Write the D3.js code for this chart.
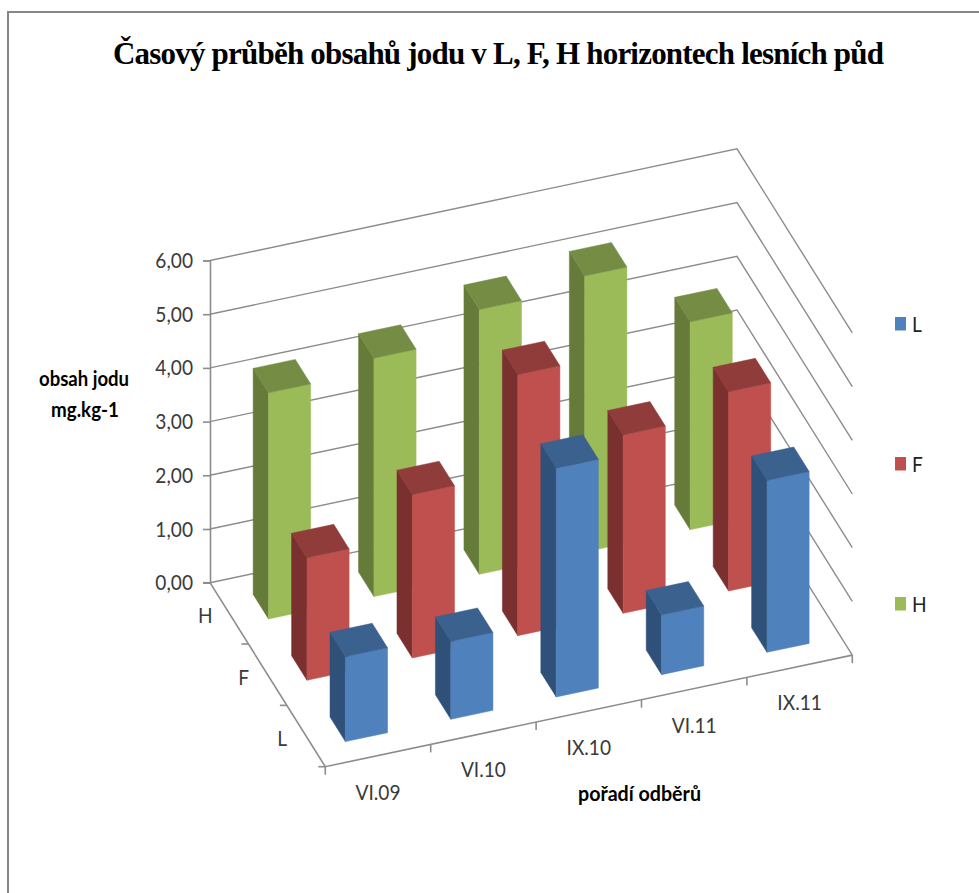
<!DOCTYPE html>
<html lang="cs">
<head>
<meta charset="utf-8">
<title>Časový průběh obsahů jodu</title>
<script src="https://cdnjs.cloudflare.com/ajax/libs/d3/7.8.5/d3.min.js"></script>
<style>
  html, body { margin: 0; padding: 0; background: #fff; }
  svg { display: block; }
  .tick-label { font-family: Lato, "Open Sans", sans-serif; font-size: 22px; fill: #3a3a3a; }
  .axis-title { font-family: Lato, "Open Sans", sans-serif; font-size: 21px; font-weight: 700; fill: #000; }
</style>
</head>
<body>
<svg id="chart" width="979" height="893"></svg>
<script>
// Sampling dates and soil horizons
const categories = ["VI.09", "VI.10", "IX.10", "VI.11", "IX.11"];
const horizons = ["H", "F", "L"];            // back row to front row
const legendOrder = ["L", "F", "H"];

// Iodine content, mg.kg-1
const valuesL = [1.58, 1.45, 4.26, 1.11, 3.20];
const valuesF = [2.28, 3.04, 4.86, 3.32, 3.71];
const valuesH = [4.21, 4.44, 4.93, 5.14, 3.87];

const yTicks = [0, 1, 2, 3, 4, 5, 6];

// Face colours per horizon
const colorsFront = ["#9BBB59", "#C0504D", "#4F81BD"];
const colorsSide = ["#667A3A", "#7A302E", "#2F5078"];
const colorsTop = ["#748C43", "#903C3A", "#3B618F"];

const seriesByHorizon = [valuesH, valuesF, valuesL];

const svg = d3.select("#chart");

// Oblique projection of the plot box
const origin = { x: 210, y: 582.7 };
const widthVec = { x: 527, y: -111.6 };
const depthVec = { x: 115.3, y: 184 };

const xBand = d3.scaleBand().domain(categories).range([0, 1]).paddingInner(0.6).paddingOuter(0.3);
const zBand = d3.scaleBand().domain(horizons).range([0, 1]).paddingInner(0.6).paddingOuter(0.3);
const yScale = d3.scaleLinear().domain([0, 6]).range([582.7, 260.5]);
const rise = v => yScale(0) - yScale(v);

// u runs along the categories, d from back wall to front, v is the measured value
const project = (u, d, v) => [
  origin.x + u * widthVec.x + d * depthVec.x,
  origin.y + u * widthVec.y + d * depthVec.y - rise(v)
];
const gridColor = "#8c8c8c";
const poly = pts => d3.line()(pts) + "Z";

// Narrows text horizontally so tall glyphs keep a condensed width
function condense(selection, factor) {
  selection.each(function () {
    const natural = this.getComputedTextLength();
    d3.select(this)
      .attr("textLength", natural * factor)
      .attr("lengthAdjust", "spacingAndGlyphs");
  });
  return selection;
}

// Outer frame, open on the right and at the bottom
svg.append("path")
  .attr("d", "M8 893V12H979")
  .attr("fill", "none").attr("stroke", "#868686").attr("stroke-width", 2);

// Title
svg.append("text")
  .attr("x", 498.5).attr("y", 64)
  .attr("text-anchor", "middle")
  .attr("textLength", 771).attr("lengthAdjust", "spacing")
  .style("font-family", '"Liberation Serif", serif')
  .style("font-size", "31px").style("font-weight", 700).attr("fill", "#000")
  .text("Časový průběh obsahů jodu v L, F, H horizontech lesních půd");

// Gridlines over back and side walls
const grid = svg.append("g").attr("fill", "none").attr("stroke", gridColor).attr("stroke-width", 1.4);
yTicks.forEach(t => {
  grid.append("path").attr("d", d3.line()([project(0, 0, t), project(1, 0, t), project(1, 1, t)]));
});

// Floor edges
const floor = svg.append("g").attr("fill", "none").attr("stroke", gridColor).attr("stroke-width", 1.6);
floor.append("path").attr("d", d3.line()([project(0, 0, 0), project(0, 1, 0), project(1, 1, 0)]));

// Value axis
const yAxis = d3.axisLeft(yScale)
  .tickValues(yTicks)
  .tickSize(7)
  .tickPadding(10)
  .tickFormat(d => d3.format(".2f")(d).replace(".", ","));
const yAxisG = svg.append("g")
  .attr("transform", `translate(${origin.x},0)`)
  .call(yAxis);
yAxisG.selectAll("path, line").attr("stroke", gridColor).attr("stroke-width", 1.6);
yAxisG.selectAll("text").attr("class", "tick-label").attr("fill", null).attr("dy", "0.32em")
  .call(condense, 0.87);

// Depth axis ticks and horizon labels
const step = 1 / horizons.length;
d3.range(horizons.length + 1).forEach(i => {
  const [px, py] = project(0, i * step, 0);
  svg.append("line").attr("x1", px - 7).attr("x2", px).attr("y1", py).attr("y2", py)
    .attr("stroke", gridColor).attr("stroke-width", 1.6);
});
svg.append("g").selectAll("text").data(horizons).join("text")
  .attr("class", "tick-label")
  .attr("text-anchor", "middle")
  .attr("x", d => project(0, zBand(d) + zBand.bandwidth() / 2, 0)[0] - 24)
  .attr("y", d => project(0, zBand(d) + zBand.bandwidth() / 2, 0)[1] + 10)
  .text(d => d)
  .call(condense, 0.87);

// Category axis ticks and labels
const catStep = 1 / categories.length;
d3.range(categories.length + 1).forEach(i => {
  const [px, py] = project(i * catStep, 1, 0);
  svg.append("line").attr("x1", px).attr("x2", px).attr("y1", py).attr("y2", py + 8)
    .attr("stroke", gridColor).attr("stroke-width", 1.6);
});
svg.append("g").selectAll("text").data(categories).join("text")
  .attr("class", "tick-label")
  .attr("text-anchor", "middle")
  .attr("x", d => project(xBand(d) + xBand.bandwidth() / 2, 1, 0)[0])
  .attr("y", d => project(xBand(d) + xBand.bandwidth() / 2, 1, 0)[1] + 44)
  .text(d => d)
  .call(condense, 0.87);

// Bars, painted from the back row forward
const bars = svg.append("g");
horizons.forEach((h, s) => {
  const z0 = zBand(h), z1 = z0 + zBand.bandwidth();
  categories.forEach((c, i) => {
    const v = seriesByHorizon[s][i];
    const u0 = xBand(c), u1 = u0 + xBand.bandwidth();
    const faces = [
      [colorsSide[s], [project(u0, z0, 0), project(u0, z1, 0), project(u0, z1, v), project(u0, z0, v)]],
      [colorsFront[s], [project(u0, z1, 0), project(u1, z1, 0), project(u1, z1, v), project(u0, z1, v)]],
      [colorsTop[s], [project(u0, z0, v), project(u1, z0, v), project(u1, z1, v), project(u0, z1, v)]]
    ];
    faces.forEach(([fill, pts]) => {
      bars.append("path").attr("d", poly(pts))
        .attr("fill", fill).attr("stroke", fill).attr("stroke-width", 0.5);
    });
  });
});

// Legend
const legendY = d3.scalePoint().domain(legendOrder).range([324, 604]);
const legend = svg.append("g").selectAll("g").data(legendOrder).join("g")
  .attr("transform", d => `translate(895,${legendY(d)})`);
legend.append("rect").attr("x", 0).attr("y", -7).attr("width", 11).attr("height", 13.5)
  .attr("fill", d => colorsFront[horizons.indexOf(d)]);
legend.append("text").attr("class", "tick-label").attr("x", 17).attr("y", 8)
  .style("fill", "#222").text(d => d)
  .call(condense, 0.87);

// Axis titles
svg.append("text").attr("class", "axis-title").attr("text-anchor", "middle")
  .attr("x", 84).attr("y", 386).attr("textLength", 90).attr("lengthAdjust", "spacingAndGlyphs").text("obsah jodu");
svg.append("text").attr("class", "axis-title").attr("text-anchor", "middle")
  .attr("x", 85).attr("y", 417).attr("textLength", 68).attr("lengthAdjust", "spacingAndGlyphs").text("mg.kg-1");
svg.append("text").attr("class", "axis-title").attr("text-anchor", "middle")
  .attr("x", 639.5).attr("y", 801).attr("textLength", 123).attr("lengthAdjust", "spacingAndGlyphs").text("pořadí odběrů");
</script>
</body>
</html>
